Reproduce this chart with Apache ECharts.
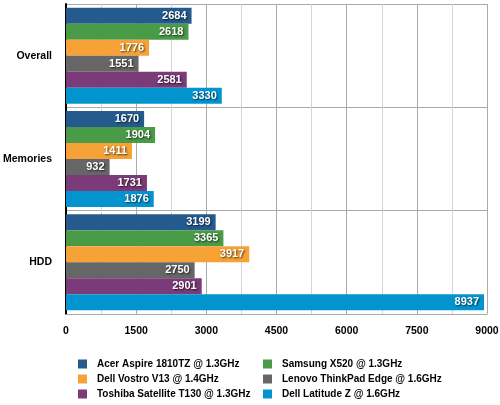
<!DOCTYPE html>
<html><head><meta charset="utf-8">
<script src="https://cdn.jsdelivr.net/npm/echarts@6/dist/echarts.min.js"></script>
<style>html,body{margin:0;padding:0;background:#fff}#c{width:500px;height:405px}</style>
</head><body><div id="c"></div>
<script>
var categories = ['Overall', 'Memories', 'HDD'];
var seriesNames = ['Acer Aspire 1810TZ @ 1.3GHz', 'Samsung X520 @ 1.3GHz', 'Dell Vostro V13 @ 1.4GHz', 'Lenovo ThinkPad Edge @ 1.6GHz', 'Toshiba Satellite T130 @ 1.3GHz', 'Dell Latitude Z @ 1.6GHz'];
var acer = [2684, 1670, 3199];
var samsung = [2618, 1904, 3365];
var vostro = [1776, 1411, 3917];
var lenovo = [1551, 932, 2750];
var toshiba = [2581, 1731, 2901];
var latitude = [3330, 1876, 8937];
var colors = ['#245a8d', '#4a9b48', '#f6a236', '#666666', '#7b3a78', '#0394d0'];
var values = [acer, samsung, vostro, lenovo, toshiba, latitude];

var FONT = '"Liberation Sans", Arial, sans-serif';
var chart = echarts.init(document.getElementById('c'));
var series = values.map(function (v, i) {
  return {
    name: seriesNames[i], type: 'bar', data: v, barWidth: 16, barGap: '0%',
    itemStyle: { color: colors[i] },
    label: {
      show: true, position: 'insideRight', distance: 5,
      color: '#fff', fontFamily: FONT, fontWeight: 'bold', fontSize: 11,
      textShadowColor: 'rgba(0,0,0,0.7)', textShadowBlur: 2, textShadowOffsetX: 1, textShadowOffsetY: 1
    }
  };
});
var legendText = { fontFamily: FONT, fontWeight: 'bold', fontSize: 10, color: '#000', padding: [0, 0, 0, 5], lineHeight: 12 };
chart.setOption({
  animation: false,
  grid: { left: 66, right: 13, top: 4, bottom: 91, containLabel: false, outerBoundsMode: 'none' },
  legend: [
    { data: [seriesNames[0], seriesNames[2], seriesNames[4]], orient: 'vertical', left: 78, top: 358,
      height: 60, padding: 0, itemWidth: 9, itemHeight: 9, itemGap: 3, icon: 'rect', textStyle: legendText },
    { data: [seriesNames[1], seriesNames[3], seriesNames[5]], orient: 'vertical', left: 263, top: 358,
      height: 60, padding: 0, itemWidth: 9, itemHeight: 9, itemGap: 3, icon: 'rect', textStyle: legendText }
  ],
  xAxis: {
    type: 'value', min: 0, max: 9000, interval: 1500,
    axisLine: { show: true, lineStyle: { color: '#aaa' } },
    axisTick: { show: false },
    minorTick: { show: false, splitNumber: 2 },
    minorSplitLine: { show: true, lineStyle: { color: '#d4d4d4', width: 1 } },
    splitLine: { show: true, lineStyle: { color: '#aaa', width: 1 } },
    axisLabel: { color: '#000', fontFamily: FONT, fontWeight: 'bold', fontSize: 10.5, margin: 12,
      formatter: function (v) { return String(v); } }
  },
  yAxis: {
    type: 'category', data: categories, inverse: true,
    axisLine: { show: true, lineStyle: { color: '#000', width: 2 } },
    axisTick: { show: false },
    splitLine: { show: true, lineStyle: { color: '#aaa', width: 1 } },
    axisLabel: { color: '#000', fontFamily: FONT, fontWeight: 'bold', fontSize: 10.5, margin: 14 }
  },
  series: series
});
</script></body></html>
